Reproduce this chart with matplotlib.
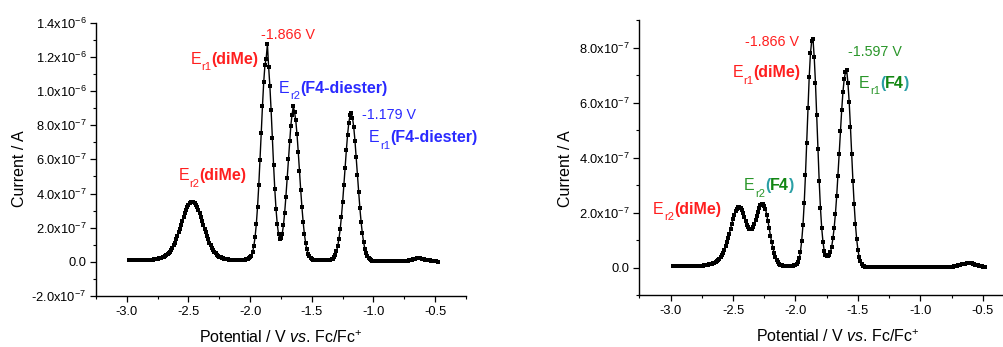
import numpy as np
import matplotlib
matplotlib.use('Agg')
import matplotlib.pyplot as plt
from matplotlib.ticker import MultipleLocator, FuncFormatter

plt.rcParams['font.family'] = ['Liberation Sans', 'DejaVu Sans']
plt.rcParams['mathtext.fontset'] = 'custom'
plt.rcParams['mathtext.rm'] = 'Liberation Sans'
plt.rcParams['mathtext.it'] = 'Liberation Sans:italic'
plt.rcParams['mathtext.bf'] = 'Liberation Sans:bold'
plt.rcParams['axes.unicode_minus'] = False

# DPV traces, current in units of 1e-7 A, one row per 0.1 V starting at -2.98 V
current_left = [
    .12, .12, .11, .12, .11, .12, .12, .11, .12, .12,    # -2.98
    .12, .12, .12, .13, .12, .13, .13, .13, .13, .13,    # -2.88
    .14, .15, .16, .18, .20, .22, .25, .28, .31, .34,    # -2.78
    .39, .45, .52, .60, .70, .83, .97, 1.13, 1.32, 1.52,  # -2.68
    1.73, 1.95, 2.18, 2.41, 2.63, 2.84, 3.03, 3.20, 3.34, 3.44,  # -2.58
    3.50, 3.52, 3.50, 3.44, 3.34, 3.20, 3.03, 2.84, 2.63, 2.41,  # -2.48
    2.18, 1.95, 1.73, 1.52, 1.32, 1.13, .97, .82, .69, .58,  # -2.38
    .49, .41, .35, .30, .26, .23, .20, .18, .16, .15,    # -2.28
    .14, .13, .12, .12, .11, .11, .11, .11, .11, .11,    # -2.18
    .11, .12, .12, .12, .13, .15, .17, .21, .27, .37,    # -2.08
    .58, .93, 1.45, 2.20, 3.21, 4.47, 5.94, 7.54, 9.12, 10.51,  # -1.98
    11.53, 11.90, 12.75, 11.40, 10.30, 8.88, 7.25, 5.68, 4.24, 3.07,  # -1.88
    2.20, 1.63, 1.36, 1.37, 1.64, 2.14, 2.88, 3.82, 4.88, 6.00,  # -1.78
    7.08, 7.98, 8.62, 9.10, 8.77, 8.28, 7.47, 6.45, 5.32, 4.21,  # -1.68
    3.19, 2.32, 1.62, 1.10, .73, .48, .32, .22, .16, .12,  # -1.58
    .10, .09, .09, .08, .08, .08, .08, .08, .08, .08,    # -1.48
    .08, .09, .10, .11, .14, .19, .27, .40, .61, .91,    # -1.38
    1.34, 1.91, 2.63, 3.49, 4.47, 5.50, 6.52, 7.43, 8.14, 8.57,  # -1.28
    8.70, 8.44, 7.89, 7.09, 6.12, 5.09, 4.07, 3.13, 2.32, 1.66,  # -1.18
    1.15, .78, .52, .34, .22, .15, .10, .07, .06, .05,   # -1.08
    .05, .05, .05, .04, .04, .04, .04, .04, .04, .04,    # -0.98
    .04, .03, .03, .03, .03, .03, .03, .03, .03, .03,    # -0.88
    .03, .03, .03, .04, .05, .06, .07, .09, .11, .13,    # -0.78
    .15, .17, .19, .20, .21, .21, .20, .19, .17, .15,    # -0.68
    .13, .12, .10, .09, .08, .06, .05, .04, .03, .02,    # -0.58
    .01,                                                 # -0.48
]

current_right = [
    .06, .06, .05, .06, .06, .06, .05, .06, .06, .06,    # -2.98
    .06, .06, .06, .07, .07, .07, .07, .07, .07, .07,    # -2.88
    .07, .08, .08, .08, .08, .09, .09, .10, .11, .12,    # -2.78
    .13, .14, .16, .18, .21, .24, .28, .33, .39, .46,    # -2.68
    .54, .66, .78, .92, 1.08, 1.24, 1.42, 1.60, 1.77, 1.92,  # -2.58
    2.05, 2.14, 2.20, 2.21, 2.18, 2.09, 1.98, 1.84, 1.70, 1.57,  # -2.48
    1.47, 1.40, 1.39, 1.40, 1.48, 1.59, 1.73, 1.89, 2.04, 2.16,  # -2.38
    2.27, 2.32, 2.33, 2.26, 2.13, 1.93, 1.69, 1.43, 1.16, .92,  # -2.28
    .71, .53, .39, .28, .20, .15, .11, .09, .07, .06,    # -2.18
    .06, .06, .06, .06, .06, .07, .08, .09, .11, .14,    # -2.08
    .21, .35, .59, .98, 1.55, 2.35, 3.37, 4.55, 5.80, 6.93,  # -1.98
    7.79, 8.24, 8.32, 7.66, 6.72, 5.54, 4.30, 3.14, 2.17, 1.45,  # -1.88
    .95, .62, .47, .41, .41, .46, .57, .77, 1.07, 1.46,  # -1.78
    1.97, 2.60, 3.34, 4.14, 4.95, 5.72, 6.38, 6.85, 7.10, 7.18,  # -1.68
    6.71, 6.03, 5.13, 4.14, 3.16, 2.30, 1.58, 1.04, .65, .39,  # -1.58
    .23, .13, .08, .05, .04, .03, .03, .02, .02, .02,    # -1.48
    .02, .02, .02, .02, .02, .02, .02, .02, .02, .02,    # -1.38
    .02, .02, .02, .02, .02, .02, .02, .02, .02, .02,    # -1.28
    .02, .02, .02, .02, .02, .02, .02, .02, .02, .02,    # -1.18
    .02, .02, .02, .02, .02, .02, .02, .02, .02, .02,    # -1.08
    .02, .02, .02, .02, .02, .02, .02, .02, .02, .02,    # -0.98
    .02, .02, .02, .02, .02, .02, .02, .02, .02, .02,    # -0.88
    .02, .02, .03, .03, .04, .05, .06, .07, .09, .10,    # -0.78
    .11, .12, .12, .13, .14, .16, .17, .18, .18, .17,    # -0.68
    .15, .13, .11, .10, .09, .08, .06, .05, .03, .02,    # -0.58
    .01,                                                 # -0.48
]

# measurement grid: 10 mV steps
potential = np.linspace(-2.98, -0.48, len(current_left))
assert len(current_left) == len(current_right)

RED = '#ff1f1f'
BLUE = '#2a2aff'
GREEN = '#2a962a'
DKGREEN = '#128612'
TEAL = '#2a9fa5'


def sci_fmt(val, pos):
    if abs(val) < 1e-12:
        return '0.0'
    exp = int(np.floor(np.log10(abs(val)) + 1e-9))
    mant = val / 10 ** exp
    return f'{mant:.1f}x10$^{{{exp}}}$'


def peak_label(ax, x, y, parts, size=11.5):
    # parts: (text, colour, weight); text starting with "_" is a subscript
    base = ax.text(x, y, parts[0][0], color=parts[0][1], fontweight=parts[0][2],
                   fontsize=size, ha='left', va='baseline')
    prev = base
    for txt, col, wt in parts[1:]:
        if txt.startswith('_'):
            prev = ax.annotate(txt[1:], xy=(1, 0), xycoords=(prev, base),
                               xytext=(0.2, -4), textcoords='offset points',
                               fontsize=size * 0.7, color=col, fontweight=wt,
                               ha='left', va='bottom')
        else:
            prev = ax.annotate(txt, xy=(1, 0), xycoords=(prev, base),
                               fontsize=size, color=col, fontweight=wt,
                               ha='left', va='bottom')
    return base


def style_axes(ax, ymin, ymax):
    ax.set_xlim(-3.25, -0.25)
    ax.set_ylim(ymin, ymax)
    for side in ['top', 'right']:
        ax.spines[side].set_visible(False)
    for side in ['left', 'bottom']:
        ax.spines[side].set_linewidth(1.0)
    ax.xaxis.set_major_locator(MultipleLocator(0.5))
    ax.xaxis.set_minor_locator(MultipleLocator(0.25))
    ax.yaxis.set_major_locator(MultipleLocator(2e-7))
    ax.yaxis.set_minor_locator(MultipleLocator(1e-7))
    ax.xaxis.set_major_formatter(FuncFormatter(lambda v, p: f'{v:.1f}'))
    ax.yaxis.set_major_formatter(FuncFormatter(sci_fmt))
    ax.tick_params(which='major', direction='out', length=4.5, width=0.9,
                   labelsize=9.3, pad=2.5)
    ax.tick_params(which='minor', direction='out', length=2.5, width=0.8)
    ax.set_ylabel('Current / A', fontsize=11.5)
    ax.set_xlabel(r'Potential / V $\mathit{vs}$. Fc/Fc$^{+}$', fontsize=11.5)


fig = plt.figure(figsize=(10.04, 3.47), dpi=100)
ax1 = fig.add_axes([0.0956, 0.147, 0.3685, 0.7876])
ax2 = fig.add_axes([0.6368, 0.149, 0.3732, 0.7934])

for ax, cur in [(ax1, current_left), (ax2, current_right)]:
    ax.plot(potential, np.array(cur) * 1e-7, '-s', color='black', lw=1.0,
            ms=2.6, mew=0)

style_axes(ax1, -2e-7, 1.4e-6)
style_axes(ax2, -1e-7, 9e-7)
ax1.yaxis.set_label_coords(-0.208, 0.465)
ax1.xaxis.set_label_coords(0.499, -0.154)
ax2.yaxis.set_label_coords(-0.196, 0.461)
ax2.xaxis.set_label_coords(0.529, -0.151)
for ax in [ax1, ax2]:
    ax.xaxis.label.set_va('center')
    ax.yaxis.label.set_va('center')

# left panel annotations
ax1.text(-1.693, 13.27e-7, '-1.866 V', color=RED, fontsize=10.3, ha='center', va='center')
ax1.text(-0.872, 8.59e-7, '-1.179 V', color=BLUE, fontsize=10.3, ha='center', va='center')
peak_label(ax1, -2.484, 11.6e-7, [('E', RED, 'normal'), ('_r1', RED, 'normal'), ('(diMe)', RED, 'bold')])
peak_label(ax1, -2.580, 4.77e-7, [('E', RED, 'normal'), ('_r2', RED, 'normal'), ('(diMe)', RED, 'bold')])
peak_label(ax1, -1.767, 9.89e-7, [('E', BLUE, 'normal'), ('_r2', BLUE, 'normal'), ('(F4-diester)', BLUE, 'bold')])
peak_label(ax1, -1.036, 7.01e-7, [('E', BLUE, 'normal'), ('_r1', BLUE, 'normal'), ('(F4-diester)', BLUE, 'bold')])

# right panel annotations
ax2.text(-2.19, 8.19e-7, '-1.866 V', color=RED, fontsize=10.3, ha='center', va='center')
ax2.text(-1.366, 7.84e-7, '-1.597 V', color=GREEN, fontsize=10.3, ha='center', va='center')
peak_label(ax2, -2.504, 6.92e-7, [('E', RED, 'normal'), ('_r1', RED, 'normal'), ('(diMe)', RED, 'bold')])
peak_label(ax2, -3.139, 1.97e-7, [('E', RED, 'normal'), ('_r2', RED, 'normal'), ('(diMe)', RED, 'bold')])
peak_label(ax2, -1.491, 6.54e-7, [('E', GREEN, 'normal'), ('_r1', GREEN, 'normal'), ('(', TEAL, 'bold'),
                                  ('F4', DKGREEN, 'bold'), (')', TEAL, 'bold')])
peak_label(ax2, -2.411, 2.82e-7, [('E', GREEN, 'normal'), ('_r2', GREEN, 'normal'), ('(', TEAL, 'bold'),
                                  ('F4', DKGREEN, 'bold'), (')', TEAL, 'bold')])

fig.savefig('out.png', dpi=100)
